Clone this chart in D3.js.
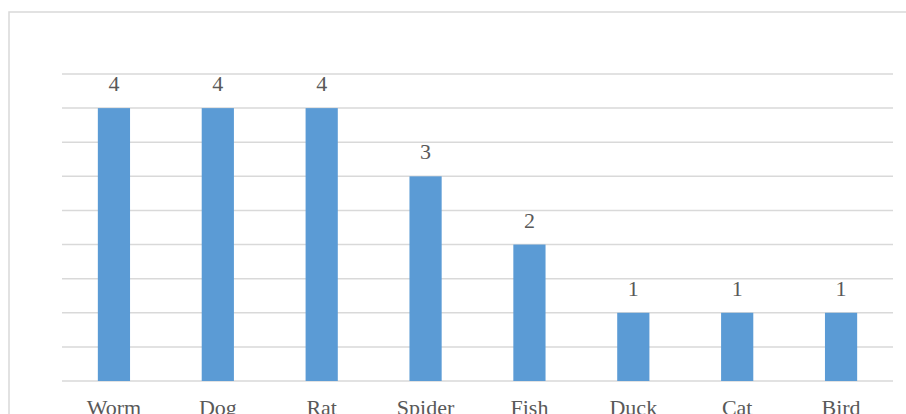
<!DOCTYPE html>
<html>
<head>
<meta charset="utf-8">
<script src="https://cdn.jsdelivr.net/npm/d3@7"></script>
<style>
  html, body { margin: 0; padding: 0; background: #fff; overflow: hidden; }
  svg { display: block; }
  text { font-family: "Liberation Serif", "Times New Roman", serif; fill: #595959; }
</style>
</head>
<body>
<svg id="chart" width="906" height="414"></svg>
<script>
// Animal counts
const categories = ["Worm", "Dog", "Rat", "Spider", "Fish", "Duck", "Cat", "Bird"];
const counts = [4, 4, 4, 3, 2, 1, 1, 1];
const gridTicks = [0, 0.5, 1, 1.5, 2, 2.5, 3, 3.5, 4, 4.5];

const svg = d3.select("#chart");
const plot = { left: 62, right: 893, top: 74, bottom: 381 };

// Chart frame (right and bottom edges run off the page)
svg.append("rect")
  .attr("x", 9).attr("y", 12)
  .attr("width", 1000).attr("height", 1000)
  .attr("fill", "#fff")
  .attr("stroke", "#d9d9d9")
  .attr("stroke-width", 1.5);

const x = d3.scaleBand()
  .domain(categories)
  .range([plot.left, plot.right])
  .paddingInner(0.69)
  .paddingOuter(0.345);

const y = d3.scaleLinear()
  .domain([0, 4.5])
  .range([plot.bottom, plot.top]);

// Horizontal gridlines
svg.append("g").selectAll("line")
  .data(gridTicks)
  .join("line")
  .attr("x1", plot.left).attr("x2", plot.right)
  .attr("y1", d => y(d)).attr("y2", d => y(d))
  .attr("stroke", "#d9d9d9")
  .attr("stroke-width", 1.5);

// Bars
svg.append("g").selectAll("rect")
  .data(categories)
  .join("rect")
  .attr("x", d => x(d))
  .attr("width", x.bandwidth())
  .attr("y", (d, i) => y(counts[i]))
  .attr("height", (d, i) => y(0) - y(counts[i]))
  .attr("fill", "#5b9bd5");

// Value labels above the bars
svg.append("g").selectAll("text")
  .data(categories)
  .join("text")
  .attr("x", d => x(d) + x.bandwidth() / 2)
  .attr("y", (d, i) => y(counts[i]) - 17)
  .attr("text-anchor", "middle")
  .attr("font-size", 22)
  .text((d, i) => counts[i]);

// Category axis labels
const xAxis = d3.axisBottom(x).tickSize(0).tickPadding(0);
const gx = svg.append("g")
  .attr("transform", `translate(0,${plot.bottom})`)
  .call(xAxis);
gx.select(".domain").remove();
gx.selectAll("text")
  .attr("dy", null)
  .attr("y", 34)
  .attr("font-size", 22)
  .attr("fill", "#595959")
  .style("font-family", "'Liberation Serif', 'Times New Roman', serif");
</script>
</body>
</html>
